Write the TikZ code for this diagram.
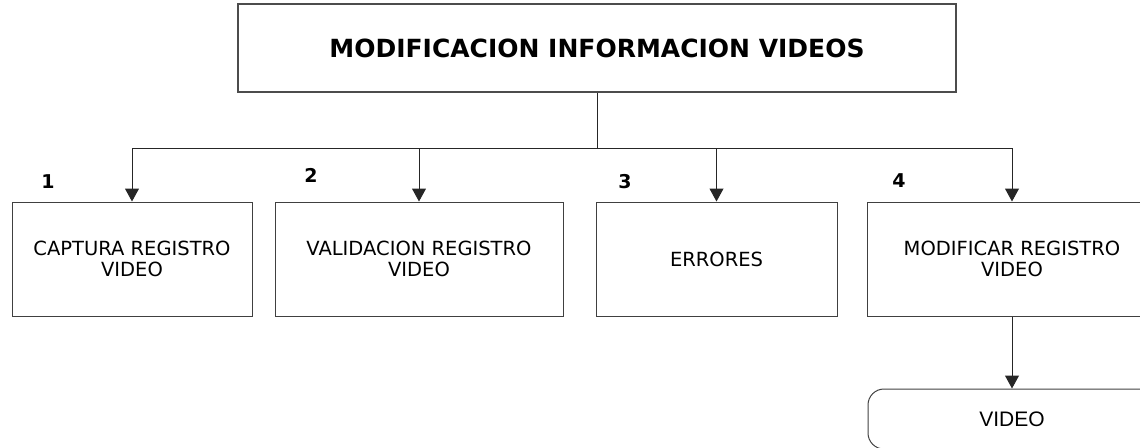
\documentclass[tikz,border=0pt]{standalone}
\usepackage{fontspec}
\setmainfont{DejaVu Sans}
\newfontfamily\arialf{Liberation Sans}
\usetikzlibrary{arrows.meta}
\begin{document}
\begin{tikzpicture}[x=1pt,y=-1pt,
  box/.style={draw=black!75,line width=1pt,minimum height=114pt,inner sep=0pt,align=center,font=\fontsize{19.5}{21}\selectfont},
  conn/.style={draw=black!85,line width=1pt},
  arr/.style={conn,-{Triangle[length=13pt,width=14pt]}},
  num/.style={font=\bfseries\fontsize{19}{19}\selectfont,inner sep=0pt}]
\useasboundingbox (0,0) rectangle (1140,447);
\clip (0,0) rectangle (1140,447);
\node[draw=black!70,line width=1.3pt,minimum width=718pt,minimum height=88pt,inner sep=0pt,font=\bfseries\fontsize{25}{25}\selectfont] (top) at (597,48) {MODIFICACION INFORMACION VIDEOS};
\node[box,minimum width=240pt] (b1) at (132,259) {CAPTURA REGISTRO\\VIDEO};
\node[box,minimum width=288pt] (b2) at (419,259) {VALIDACION REGISTRO\\VIDEO};
\node[box,minimum width=241pt] (b3) at (716.5,259) {ERRORES};
\node[box,minimum width=290pt] (b4) at (1012,259) {MODIFICAR REGISTRO\\VIDEO};
\node[draw=black!75,line width=1pt,rounded corners=16pt,minimum width=288pt,minimum height=60pt,inner sep=0pt,font=\arialf\fontsize{21}{21}\selectfont] (vid) at (1012,419) {VIDEO};
\node[num] (n1) at (48,182) {1};
\node[num] (n2) at (311,175) {2};
\node[num] (n3) at (625,182) {3};
\node[num] (n4) at (899,181) {4};
\coordinate (j) at (597,148);
\draw[conn] (top.south) -- (j);
\draw[arr] (j) -| (b1.north);
\draw[arr] (j) -| (b2.north);
\draw[arr] (j) -| (b3.north);
\draw[arr] (j) -| (b4.north);
\draw[arr] (b4.south) -- (vid.north);
\end{tikzpicture}
\end{document}
